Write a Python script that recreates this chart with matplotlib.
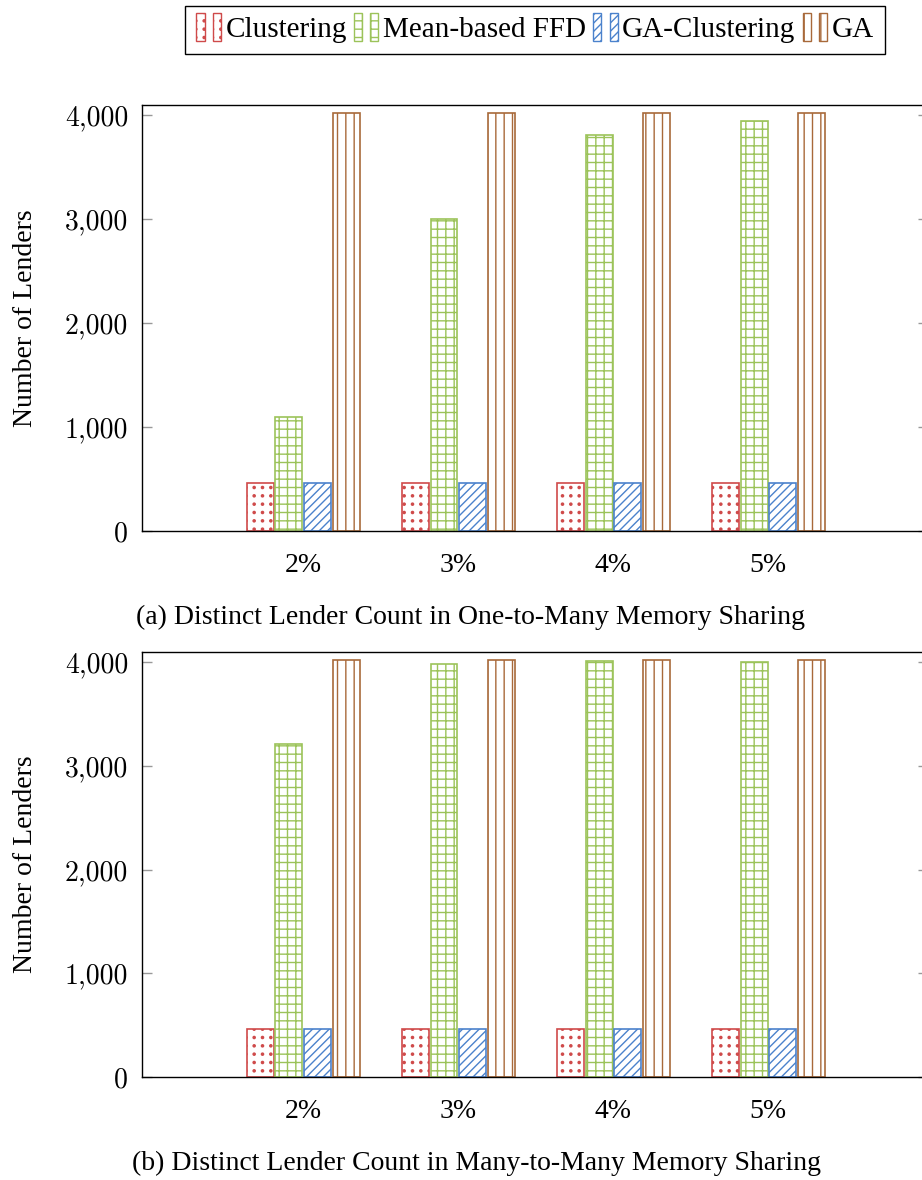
import matplotlib
matplotlib.use("Agg")
import matplotlib.pyplot as plt
import matplotlib.hatch as mhatch
import numpy as np
from matplotlib.patches import Rectangle
from matplotlib.path import Path
from matplotlib.legend_handler import HandlerBase

# ---- data ----
categories = ["2%", "3%", "4%", "5%"]
series_names = ["Clustering", "Mean-based FFD", "GA-Clustering", "GA"]

one_to_many_clustering = [465, 465, 465, 465]
one_to_many_ffd = [1100, 3000, 3810, 3950]
one_to_many_ga_clustering = [465, 465, 465, 465]
one_to_many_ga = [4020, 4020, 4020, 4020]

many_to_many_clustering = [465, 465, 465, 465]
many_to_many_ffd = [3210, 3980, 4010, 4000]
many_to_many_ga_clustering = [465, 465, 465, 465]
many_to_many_ga = [4020, 4020, 4020, 4020]

y_ticks = [0, 1000, 2000, 3000, 4000]

captions = [
    "(a) Distinct Lender Count in One-to-Many Memory Sharing",
    "(b) Distinct Lender Count in Many-to-Many Memory Sharing",
]


# ---- a square (non-staggered) dot hatch, like TikZ "dots" ----
class GridDots(mhatch.HatchPatternBase):
    size = 0.13

    def __init__(self, hatch, density):
        self.num_rows = hatch.count('.') * density
        circle = Path.unit_circle()
        self.shape_vertices = circle.vertices
        self.shape_codes = circle.codes
        self.num_vertices = (self.num_rows ** 2) * len(self.shape_vertices)

    def set_vertices_and_codes(self, vertices, codes):
        offset = 1.0 / self.num_rows
        shape = self.shape_vertices * offset * self.size
        n = len(shape)
        i = 0
        for row in range(self.num_rows):
            for col in range(self.num_rows):
                vertices[i:i + n] = shape + [(col + 0.5) * offset,
                                             (row + 0.5) * offset]
                codes[i:i + n] = self.shape_codes
                i += n


mhatch._hatch_types = [GridDots if t is mhatch.SmallFilledCircles else t
                       for t in mhatch._hatch_types]

# ---- styles ----
colors = ["#cf4a4a", "#9cc35a", "#4b82cc", "#a8693a"]
hatches = ["..", "++", "////", "||"]
serif = "Liberation Serif"
fs = 20
legend_fs = 21
plt.rcParams["hatch.linewidth"] = 1.0

W, H = 922, 1180
fig = plt.figure(figsize=(W / 100, H / 100), dpi=100)

ax_left = 142 / W
ax_width = (928 - 142) / W
panels = [
    (105, 531, [one_to_many_clustering, one_to_many_ffd,
                one_to_many_ga_clustering, one_to_many_ga]),
    (652, 1077, [many_to_many_clustering, many_to_many_ffd,
                 many_to_many_ga_clustering, many_to_many_ga]),
]

x = np.arange(len(categories))
bar_w = 0.174
offsets = [-0.276, -0.092, 0.092, 0.276]

bar_handles = []
for pi, (top, bottom, series) in enumerate(panels):
    ax = fig.add_axes([ax_left, 1 - bottom / H, ax_width, (bottom - top) / H])
    for si, vals in enumerate(series):
        bars = ax.bar(x + offsets[si], vals, width=bar_w, facecolor="white",
                      edgecolor=colors[si], hatch=hatches[si], linewidth=1.2,
                      label=series_names[si], zorder=2)
        if pi == 0:
            bar_handles.append(bars[0])
    ax.set_xlim(-1.04, 4.03)
    ax.set_ylim(0, 4100)
    ax.set_xticks(x)
    ax.set_xticklabels(categories, fontfamily=serif, fontsize=fs)
    ax.tick_params(axis="x", length=0, pad=16)
    ax.set_yticks(y_ticks)
    ax.set_yticklabels([f"{v:,}" for v in y_ticks], fontfamily="cmr10",
                       fontsize=fs)
    ax.tick_params(axis="y", direction="in", length=7, width=1,
                   color="#999999", right=True, pad=10)
    for s in ax.spines.values():
        s.set_linewidth(1.0)
        s.set_color("black")
    ax.set_ylabel("Number of Lenders", fontfamily=serif, fontsize=fs)
    ax.yaxis.set_label_coords((38 - 142) / (928 - 142), 0.5)

fig.text(470 / W, 1 - 617 / H, captions[0], fontfamily=serif, fontsize=fs,
         ha="center", va="center")
fig.text(476 / W, 1 - 1163 / H, captions[1], fontfamily=serif, fontsize=fs,
         ha="center", va="center")


class TwinBarHandler(HandlerBase):
    """Legend key drawn as two slim hatched bars."""

    def create_artists(self, legend, orig_handle, xdescent, ydescent,
                       width, height, fontsize, trans):
        bw = width * 0.33
        h = height * 1.4
        y0 = -ydescent - (h - height) / 2
        arts = []
        for x0 in (-xdescent, -xdescent + width * 0.67):
            r = Rectangle((x0, y0), bw, h, facecolor="white",
                          edgecolor=orig_handle.get_edgecolor(),
                          hatch=orig_handle.get_hatch(), linewidth=1.0,
                          transform=trans)
            arts.append(r)
        return arts


leg = fig.legend(bar_handles, series_names, loc="center",
                 bbox_to_anchor=(535 / W, 1 - 30 / H), ncol=4,
                 prop={"family": serif, "size": legend_fs},
                 handler_map={h: TwinBarHandler() for h in bar_handles},
                 handlelength=0.84, handletextpad=0.15, columnspacing=0.25,
                 fancybox=False, edgecolor="black", framealpha=1,
                 borderpad=0.38, borderaxespad=0)
leg.get_frame().set_linewidth(1.0)

fig.savefig("out.png", dpi=100)
